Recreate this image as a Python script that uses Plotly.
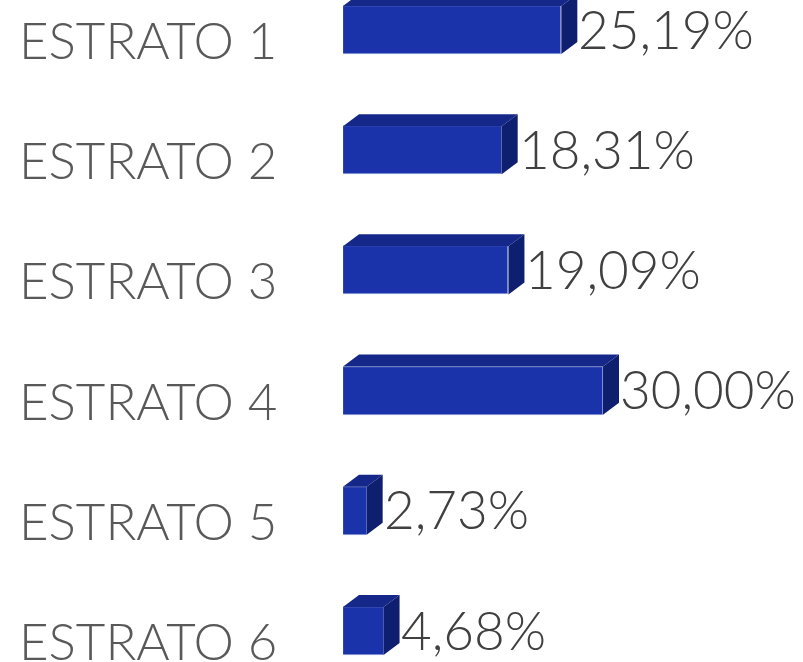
import plotly.graph_objects as go

categories = ["ESTRATO 1", "ESTRATO 2", "ESTRATO 3", "ESTRATO 4", "ESTRATO 5", "ESTRATO 6"]
values = [25.19, 18.31, 19.09, 30.00, 2.73, 4.68]
value_labels = ["25,19%", "18,31%", "19,09%", "30,00%", "2,73%", "4,68%"]

FRONT = "#1a33ab"
TOP = "#15288a"
SIDE = "#0f1f70"
FONT = "Lato"

W, H = 803, 662
L = 343
px_x = 8.667           # pixels per percent
px_y = 120.2           # pixels per category step
bar_w = 0.4
dx = 16 / px_x         # depth offset (data units)
dy = 12 / px_y

pos = list(range(len(categories)))

fig = go.Figure()
fig.add_trace(go.Bar(
    x=values, y=pos, orientation="h", width=bar_w,
    marker=dict(color=FRONT, line=dict(color="#c9cfee", width=0.5)),
    hoverinfo="skip", showlegend=False,
))

for v, p in zip(values, pos):
    top = p - bar_w / 2
    bot = p + bar_w / 2
    fig.add_trace(go.Scatter(
        x=[0, v, v + dx, dx, 0], y=[top, top, top - dy, top - dy, top],
        fill="toself", fillcolor=TOP, mode="lines", line=dict(width=0, color=TOP),
        hoverinfo="skip", showlegend=False))
    fig.add_trace(go.Scatter(
        x=[v, v + dx, v + dx, v, v], y=[top, top - dy, bot - dy, bot, top],
        fill="toself", fillcolor=SIDE, mode="lines", line=dict(width=0, color=SIDE),
        hoverinfo="skip", showlegend=False))

annotations = []
for c, v, lab, p in zip(categories, values, value_labels, pos):
    annotations.append(dict(
        x=(17 - L) / (W - L), xref="paper", y=p, yref="y", text=c,
        showarrow=False, xanchor="left", yanchor="middle", yshift=-9.5,
        font=dict(family=FONT, size=51, color="#595959", weight=300)))
    annotations.append(dict(
        x=v + dx, xref="x", y=p, yref="y", text=lab,
        showarrow=False, xanchor="left", yanchor="middle", xshift=-1, yshift=2,
        font=dict(family=FONT, size=53, color="#404040", weight=300)))

y0 = -30 / px_y
fig.update_layout(
    width=W, height=H,
    margin=dict(l=L, r=0, t=0, b=0, autoexpand=False),
    paper_bgcolor="white", plot_bgcolor="white",
    xaxis=dict(range=[0, (W - L) / px_x], visible=False, fixedrange=True),
    yaxis=dict(range=[y0 + H / px_y, y0], visible=False, fixedrange=True),
    annotations=annotations,
    bargap=0,
    hovermode=False,
)
fig.write_html("out.html", config={"displayModeBar": False},
               post_script="document.body.style.margin='0px';")
